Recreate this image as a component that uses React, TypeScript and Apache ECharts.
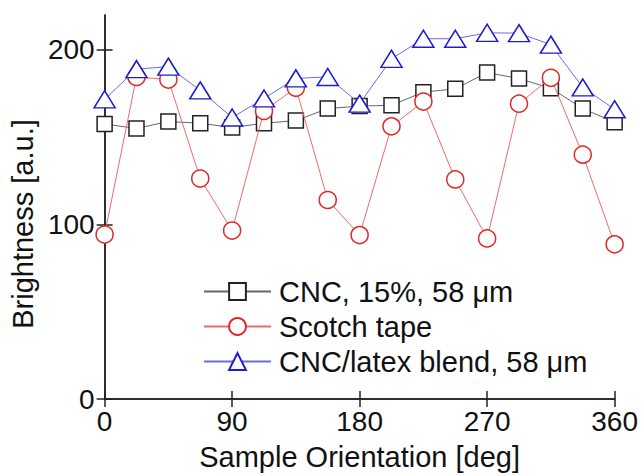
import React, { useEffect, useRef } from "react";
import * as echarts from "echarts";

const angles = [0, 22.5, 45, 67.5, 90, 112.5, 135, 157.5, 180, 202.5, 225, 247.5, 270, 292.5, 315, 337.5, 360];
const cncValues = [157.5, 155, 159, 158, 155.5, 158, 159.5, 166.4, 167.8, 168.3, 175.8, 177.7, 187, 183.6, 178, 166.4, 158.5];
const scotchValues = [94.2, 184.5, 183, 126.3, 96.5, 165, 178.3, 114, 93.9, 156.2, 170.4, 125.8, 92, 169.2, 184, 140, 88.6];
const blendValues = [171.7, 189, 190.4, 176.8, 161.3, 172.2, 183.7, 184.5, 169.2, 194.9, 206.4, 206.4, 209.8, 209.6, 203, 178.5, 166];
const seriesNames = ["CNC, 15%, 58 \u03bcm", "Scotch tape", "CNC/latex blend, 58 \u03bcm"];
const xTicks = [0, 90, 180, 270, 360];
const yTicks = [0, 100, 200];

const FONT = "'Liberation Sans', Arial, sans-serif";

export default function App() {
  const ref = useRef<HTMLDivElement>(null);
  useEffect(() => {
    if (!ref.current) return;
    const chart = echarts.init(ref.current, null, { renderer: "svg" });
    const pairs = (vals: number[]) => angles.map((a, i) => [a, vals[i]]);
    const axisLine = { show: true, lineStyle: { color: "#222", width: 1.5 } };
    const tick = { show: true, inside: true, length: 8, lineStyle: { color: "#222", width: 1.5 } };
    chart.setOption({
      animation: false,
      backgroundColor: "#fff",
      textStyle: { fontFamily: FONT },
      grid: { left: 102, right: 24, top: 15, bottom: 73 },
      legend: {
        orient: "vertical",
        left: 203,
        top: 277,
        padding: 0,
        itemWidth: 67,
        itemHeight: 21,
        itemGap: 6,
        textStyle: { fontSize: 29, color: "#111", fontFamily: FONT, padding: [0, 0, 0, 3] },
        data: seriesNames,
      },
      xAxis: [
        {
          type: "value",
          min: 0,
          max: 360,
          interval: 90,
          position: "bottom",
          name: "Sample Orientation [deg]",
          nameLocation: "middle",
          nameGap: 43,
          nameTextStyle: { fontSize: 29, color: "#111", fontFamily: FONT },
          axisLine,
          axisTick: { ...tick, customValues: xTicks },
          axisLabel: { fontSize: 28, color: "#111", margin: 8, fontFamily: FONT, customValues: xTicks },
          splitLine: { show: false },
        },
        {
          type: "value",
          min: 0,
          max: 360,
          interval: 90,
          position: "top",
          axisLine,
          axisTick: { ...tick, customValues: xTicks },
          axisLabel: { show: false },
          splitLine: { show: false },
        },
      ],
      yAxis: [
        {
          type: "value",
          min: 0,
          max: 220,
          interval: 100,
          position: "left",
          name: "Brightness [a.u.]",
          nameLocation: "middle",
          nameGap: 58,
          nameTextStyle: { fontSize: 29, color: "#111", fontFamily: FONT, padding: [0, 34, 0, 0] },
          axisLine,
          axisTick: { ...tick, customValues: yTicks },
          axisLabel: { fontSize: 28, color: "#111", margin: 10, fontFamily: FONT, customValues: yTicks },
          splitLine: { show: false },
        },
        {
          type: "value",
          min: 0,
          max: 220,
          interval: 100,
          position: "right",
          axisLine,
          axisTick: { ...tick, customValues: yTicks },
          axisLabel: { show: false },
          splitLine: { show: false },
        },
      ],
      series: [
        {
          name: seriesNames[0],
          type: "line",
          data: pairs(cncValues),
          symbol: "rect",
          symbolSize: 15,
          lineStyle: { color: "#666", width: 1 },
          itemStyle: { color: "#fff", borderColor: "#222", borderWidth: 1.5 },
          z: 2,
        },
        {
          name: seriesNames[1],
          type: "line",
          data: pairs(scotchValues),
          symbol: "circle",
          symbolSize: 17,
          lineStyle: { color: "#f06a6a", width: 1 },
          itemStyle: { color: "#fff", borderColor: "#e02828", borderWidth: 1.5 },
          z: 3,
        },
        {
          name: seriesNames[2],
          type: "line",
          data: pairs(blendValues),
          symbol: "triangle",
          symbolSize: [21, 17],
          lineStyle: { color: "#6c6ce0", width: 1 },
          itemStyle: { color: "#fff", borderColor: "#1c1cd0", borderWidth: 1.5 },
          z: 4,
        },
      ],
    });
    return () => chart.dispose();
  }, []);
  return (
    <div
      ref={ref}
      style={{ position: "fixed", left: 0, top: 0, width: 641, height: 476, background: "#fff" }}
    />
  );
}
